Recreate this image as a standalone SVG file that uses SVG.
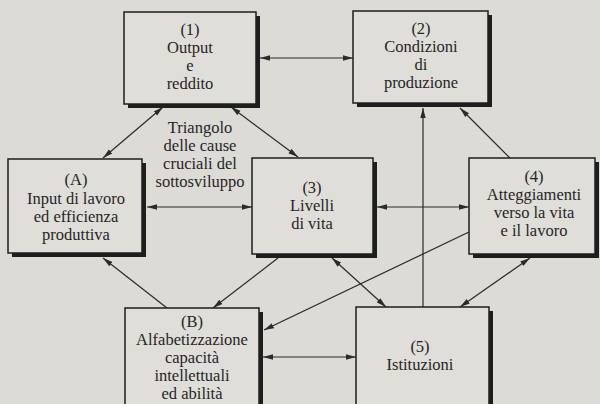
<svg xmlns="http://www.w3.org/2000/svg" width="600" height="404" viewBox="0 0 600 404">
<defs>
<style>
.bg{fill:#dcdbd6}
.sh{fill:#1e1e1e}
.box{fill:#dfded9;stroke:#1e1e1e;stroke-width:1.5}
.t{font-family:"Liberation Serif","Times New Roman",serif;font-size:16.5px;fill:#262626;text-anchor:middle}
.c{stroke:#2a2a2a;stroke-width:1.2;fill:none}
</style>
<marker id="ah" markerUnits="userSpaceOnUse" markerWidth="11" markerHeight="7" refX="10" refY="3.5" orient="auto-start-reverse">
<path d="M0,0.8 L10,3.5 L0,6.2 z" fill="#2a2a2a"/>
</marker>
</defs>
<rect class="bg" x="0" y="0" width="600" height="404"/>

<g id="connectors">
<line class="c" x1="260" y1="58" x2="353" y2="58" marker-start="url(#ah)" marker-end="url(#ah)"/>
<line class="c" x1="163" y1="107" x2="103" y2="158" marker-start="url(#ah)" marker-end="url(#ah)"/>
<line class="c" x1="231" y1="107" x2="298" y2="157" marker-start="url(#ah)" marker-end="url(#ah)"/>
<line class="c" x1="147" y1="207" x2="252" y2="207" marker-start="url(#ah)" marker-end="url(#ah)"/>
<line class="c" x1="377" y1="207" x2="469" y2="207" marker-start="url(#ah)" marker-end="url(#ah)"/>
<line class="c" x1="423" y1="307" x2="423" y2="108" marker-end="url(#ah)"/>
<line class="c" x1="510" y1="158" x2="460" y2="108" marker-end="url(#ah)"/>
<line class="c" x1="167" y1="308" x2="103" y2="258" marker-end="url(#ah)"/>
<line class="c" x1="278" y1="258" x2="213" y2="308" marker-end="url(#ah)"/>
<line class="c" x1="469" y1="232" x2="264" y2="330" marker-end="url(#ah)"/>
<line class="c" x1="263" y1="357" x2="356" y2="357" marker-start="url(#ah)" marker-end="url(#ah)"/>
<line class="c" x1="332" y1="258" x2="386" y2="307" marker-start="url(#ah)" marker-end="url(#ah)"/>
<line class="c" x1="530" y1="258" x2="460" y2="307" marker-start="url(#ah)" marker-end="url(#ah)"/>
</g>

<g id="node1">
<rect class="sh" x="128" y="16" width="132" height="92"/>
<rect class="box" x="124" y="12" width="132" height="92"/>
<text class="t" x="190" y="35">(1)</text>
<text class="t" x="190" y="53">Output</text>
<text class="t" x="190" y="71">e</text>
<text class="t" x="190" y="89">reddito</text>
</g>

<g id="node2">
<rect class="sh" x="357" y="15" width="135" height="92"/>
<rect class="box" x="353" y="11" width="135" height="92"/>
<text class="t" x="421" y="34">(2)</text>
<text class="t" x="421" y="52">Condizioni</text>
<text class="t" x="421" y="70">di</text>
<text class="t" x="421" y="88">produzione</text>
</g>

<g id="triangle-label">
<text class="t" x="200" y="133">Triangolo</text>
<text class="t" x="200" y="151">delle cause</text>
<text class="t" x="200" y="169">cruciali del</text>
<text class="t" x="200" y="187">sottosviluppo</text>
</g>

<g id="nodeA">
<rect class="sh" x="12" y="163" width="134" height="94"/>
<rect class="box" x="8" y="159" width="134" height="94"/>
<text class="t" x="76" y="185">(A)</text>
<text class="t" x="76" y="204">Input di lavoro</text>
<text class="t" x="76" y="222">ed efficienza</text>
<text class="t" x="76" y="240">produttiva</text>
</g>

<g id="node3">
<rect class="sh" x="256" y="162" width="121" height="96"/>
<rect class="box" x="252" y="158" width="121" height="96"/>
<text class="t" x="312" y="193">(3)</text>
<text class="t" x="312" y="211">Livelli</text>
<text class="t" x="312" y="229">di vita</text>
</g>

<g id="node4">
<rect class="sh" x="473" y="162" width="126" height="96"/>
<rect class="box" x="469" y="158" width="126" height="96"/>
<text class="t" x="534" y="182">(4)</text>
<text class="t" x="534" y="200">Atteggiamenti</text>
<text class="t" x="534" y="218">verso la vita</text>
<text class="t" x="534" y="236">e il lavoro</text>
</g>

<g id="nodeB">
<rect class="sh" x="129" y="312" width="134" height="110"/>
<rect class="box" x="125" y="308" width="134" height="110"/>
<text class="t" x="192" y="327">(B)</text>
<text class="t" x="192" y="345">Alfabetizzazione</text>
<text class="t" x="192" y="363">capacità</text>
<text class="t" x="192" y="381">intellettuali</text>
<text class="t" x="192" y="399">ed abilità</text>
</g>

<g id="node5">
<rect class="sh" x="360" y="311" width="133" height="110"/>
<rect class="box" x="356" y="307" width="133" height="110"/>
<text class="t" x="420" y="352">(5)</text>
<text class="t" x="420" y="370">Istituzioni</text>
</g>
</svg>
